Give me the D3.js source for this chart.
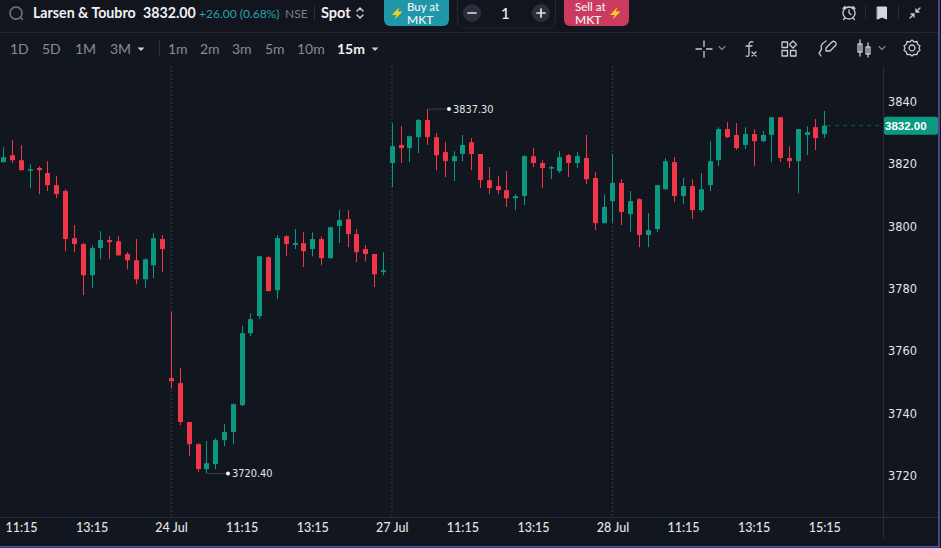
<!DOCTYPE html>
<html>
<head>
<meta charset="utf-8">
<title>Larsen & Toubro</title>
<script src="https://cdn.jsdelivr.net/npm/d3@7"></script>
<style>
    html, body { margin: 0; padding: 0; background: #12161e; overflow: hidden; }
    svg { display: block; font-family: Lato, sans-serif; }
    .axis-y text, .tag { font-family: "DejaVu Sans", sans-serif; }
</style>
</head>
<body>
<div id="chart"></div>
<script>
// 15m candles, four sessions (23 Jul from 10:45, then 24, 27 and 28 Jul)
const opens = [
    3820.3, 3822.5, 3820.9, 3817.7, 3818.4, 3816.8, 3812.9, 3811.0, 3795.9, 3794.0,
    3784.0, 3792.7, 3795.3, 3794.9, 3790.8, 3788.8, 3782.7, 3787.2, 3795.6,
    3751.0, 3749.4, 3736.9, 3729.8, 3721.8, 3723.4, 3731.1, 3733.7, 3742.3, 3765.4,
    3770.9, 3789.8, 3779.2, 3796.5, 3793.7, 3794.3, 3792.4, 3795.6, 3789.5, 3799.8,
    3802.0, 3797.2, 3792.4, 3790.8, 3785.0,
    3820.0, 3825.8, 3824.8, 3828.3, 3833.8, 3828.3, 3823.5, 3820.6, 3822.9, 3826.7,
    3822.9, 3814.5, 3812.6, 3811.3, 3808.7, 3809.4, 3822.2, 3820.0, 3818.4, 3817.4,
    3822.5, 3820.0, 3821.6, 3815.2, 3800.7,
    3807.8, 3813.6, 3803.6, 3808.4, 3796.9, 3798.8, 3811.6, 3820.3, 3809.4, 3812.6,
    3804.9, 3812.9, 3820.9, 3830.9, 3829.0, 3825.8, 3829.3, 3827.0, 3829.0, 3834.7,
    3821.6, 3820.6, 3829.0, 3831.5, 3829.3
];
const highs = [
    3825.1, 3827.4, 3825.7, 3819.6, 3819.0, 3820.6, 3815.8, 3811.6, 3800.1, 3794.3,
    3793.6, 3798.1, 3796.5, 3796.5, 3791.4, 3795.6, 3789.5, 3797.5, 3796.9,
    3772.2, 3754.2, 3736.9, 3730.1, 3730.8, 3731.7, 3736.2, 3742.9, 3767.7, 3771.8,
    3790.1, 3790.1, 3796.9, 3796.9, 3798.8, 3797.8, 3797.8, 3796.5, 3799.4, 3804.9,
    3804.9, 3798.8, 3793.7, 3790.8, 3791.4,
    3832.8, 3831.9, 3828.6, 3834.1, 3837.3, 3829.6, 3826.7, 3823.8, 3829.0, 3828.0,
    3822.9, 3818.7, 3815.8, 3817.4, 3810.0, 3822.5, 3824.8, 3820.9, 3819.0, 3823.8,
    3822.9, 3823.5, 3829.0, 3817.1, 3810.0,
    3822.9, 3814.8, 3811.0, 3808.7, 3803.9, 3812.9, 3821.6, 3821.9, 3815.2, 3814.8,
    3816.8, 3827.0, 3831.5, 3833.1, 3832.8, 3831.5, 3830.9, 3830.2, 3834.7, 3834.7,
    3825.4, 3830.9, 3831.8, 3834.1, 3836.7
];
const lows = [
    3820.1, 3820.0, 3817.7, 3811.9, 3810.0, 3811.0, 3808.7, 3791.7, 3791.4, 3777.6,
    3779.8, 3789.1, 3789.1, 3790.1, 3785.9, 3781.1, 3779.8, 3783.1, 3785.0,
    3747.7, 3735.9, 3725.9, 3720.8, 3720.4, 3721.8, 3729.2, 3729.8, 3742.0, 3764.4,
    3769.9, 3778.9, 3776.3, 3790.1, 3792.4, 3786.6, 3790.1, 3787.2, 3789.2, 3794.3,
    3793.0, 3788.2, 3788.5, 3780.2, 3784.0,
    3812.3, 3820.0, 3820.3, 3823.2, 3825.8, 3817.7, 3815.5, 3814.2, 3820.6, 3817.7,
    3812.0, 3810.0, 3810.0, 3805.9, 3804.9, 3806.5, 3818.7, 3812.0, 3814.8, 3816.8,
    3815.5, 3818.4, 3813.2, 3798.5, 3800.7,
    3801.0, 3800.1, 3797.8, 3793.0, 3793.0, 3797.8, 3811.3, 3807.5, 3806.8, 3802.0,
    3804.3, 3811.0, 3819.0, 3828.0, 3824.2, 3824.5, 3819.0, 3826.7, 3820.3, 3820.3,
    3818.4, 3810.3, 3822.5, 3824.2, 3828.0
];
const closes = [
    3821.9, 3820.9, 3817.7, 3818.0, 3817.7, 3812.9, 3810.0, 3795.6, 3794.0, 3784.0,
    3792.7, 3795.3, 3794.6, 3790.4, 3788.8, 3782.7, 3789.1, 3795.9, 3792.4,
    3750.0, 3736.9, 3729.8, 3721.8, 3723.7, 3731.1, 3733.7, 3742.6, 3765.4, 3769.9,
    3790.1, 3778.9, 3795.9, 3794.0, 3794.3, 3791.7, 3795.6, 3789.5, 3799.4, 3801.7,
    3797.2, 3791.4, 3790.8, 3784.3, 3785.6,
    3825.4, 3824.8, 3828.6, 3833.8, 3828.3, 3822.5, 3820.6, 3822.2, 3825.8, 3822.9,
    3814.5, 3812.0, 3811.3, 3808.7, 3809.4, 3822.2, 3820.0, 3818.4, 3818.7, 3821.9,
    3820.0, 3822.2, 3814.8, 3800.7, 3805.9,
    3813.6, 3804.3, 3807.8, 3796.9, 3798.5, 3812.9, 3820.6, 3809.4, 3812.6, 3804.9,
    3811.6, 3820.6, 3830.9, 3828.3, 3824.8, 3829.3, 3827.0, 3829.0, 3834.7, 3821.6,
    3820.6, 3830.9, 3829.9, 3828.0, 3832.0
];

const priceTicks = [3840, 3820, 3800, 3780, 3760, 3740, 3720];
const timeTickSlots = [2, 10, 19, 27, 35, 44, 52, 60, 69, 77, 85, 93];
const timeTickLabels = ["11:15", "13:15", "24 Jul", "11:15", "13:15", "27 Jul", "11:15", "13:15", "28 Jul", "11:15", "13:15", "15:15"];
const sessionStarts = [19, 44, 69];
const lastPrice = 3832.00;

const width = 941, height = 548;
const axisX = 883, axisY = 517;
const bg = "#12161e", upColor = "#0b9981", downColor = "#f23549";
const lineColor = "#292d35", textColor = "#e4e5e8", muted = "#878c96";

const slots = d3.range(opens.length);
const x = d3.scalePoint().domain(slots).range([3.3, 824.3]);
const y = d3.scaleLinear().domain([3720, 3840]).range([474.7, 100.7]);
const bodyWidth = 5;

const svg = d3.select("#chart").append("svg").attr("width", width).attr("height", height);
svg.append("rect").attr("width", width).attr("height", height).attr("fill", bg);

// session separators
svg.append("g").selectAll("line").data(sessionStarts).join("line")
    .attr("x1", d => x(d) + 0.2).attr("x2", d => x(d) + 0.2)
    .attr("y1", 66).attr("y2", axisY)
    .attr("stroke", "#3a3e47").attr("stroke-dasharray", "2,2");

// panel lines
svg.append("line").attr("x1", 0).attr("x2", 938).attr("y1", axisY + 0.5).attr("y2", axisY + 0.5).attr("stroke", lineColor);
svg.append("line").attr("x1", axisX + 0.5).attr("x2", axisX + 0.5).attr("y1", 66).attr("y2", 538).attr("stroke", lineColor);

// candles
const candles = svg.append("g").selectAll("g").data(slots).join("g")
    .attr("fill", i => closes[i] >= opens[i] ? upColor : downColor)
    .attr("stroke", i => closes[i] >= opens[i] ? upColor : downColor);
candles.append("line")
    .attr("x1", i => Math.round(x(i)) + 0.5).attr("x2", i => Math.round(x(i)) + 0.5)
    .attr("y1", i => y(highs[i])).attr("y2", i => y(lows[i]))
    .attr("stroke-width", 1);
candles.append("rect")
    .attr("x", i => Math.round(x(i)) + 0.5 - bodyWidth / 2)
    .attr("width", bodyWidth)
    .attr("y", i => y(Math.max(opens[i], closes[i])))
    .attr("height", i => Math.max(Math.abs(y(opens[i]) - y(closes[i])), 1.5))
    .attr("stroke", "none");

// high / low markers
function extremeTag(slot, price) {
    const px = Math.round(x(slot)) + 0.5, py = y(price);
    const g = svg.append("g");
    g.append("line").attr("x1", px).attr("x2", px + 21).attr("y1", py).attr("y2", py).attr("stroke", "#3c4048");
    g.append("circle").attr("cx", px + 21.5).attr("cy", py).attr("r", 2).attr("fill", "#fff");
    g.append("text").attr("class", "tag").attr("x", px + 25.5).attr("y", py + 4)
        .attr("font-size", 9.8).attr("fill", textColor).text(price.toFixed(2));
}
const highSlot = highs.indexOf(d3.max(highs)), lowSlot = lows.indexOf(d3.min(lows));
extremeTag(highSlot, highs[highSlot]);
extremeTag(lowSlot, lows[lowSlot]);

// price axis
const yAxis = svg.append("g").attr("class", "axis-y")
    .attr("transform", `translate(${axisX},0)`)
    .call(d3.axisRight(y).tickValues(priceTicks).tickSize(0).tickPadding(5).tickFormat(d3.format("d")));
yAxis.select(".domain").remove();
yAxis.selectAll("text").attr("font-size", 11.4).attr("fill", textColor).attr("dy", "0.42em");

// time axis
const xAxis = svg.append("g")
    .attr("transform", `translate(0,${axisY})`)
    .call(d3.axisBottom(x).tickValues(timeTickSlots).tickSize(0).tickPadding(6)
        .tickFormat(d => timeTickLabels[timeTickSlots.indexOf(d)]));
xAxis.select(".domain").remove();
xAxis.selectAll("text").attr("font-family", "Lato, sans-serif").attr("font-size", 12.5).attr("font-weight", 500).attr("fill", textColor);

// last price
const lastY = y(lastPrice);
svg.append("line").attr("x1", 827).attr("x2", axisX).attr("y1", lastY).attr("y2", lastY)
    .attr("stroke", "#0b5f54").attr("stroke-dasharray", "4,4");
svg.append("rect").attr("x", 884).attr("y", lastY - 9).attr("width", 54).attr("height", 18).attr("rx", 2).attr("fill", upColor);
svg.append("text").attr("x", 885).attr("y", lastY + 4.5).attr("font-family", "Liberation Sans, sans-serif")
    .attr("font-size", 11.5).attr("font-weight", 700).attr("fill", "#fff").text(lastPrice.toFixed(2));

// toolbars
const bar = svg.append("g");
bar.append("rect").attr("width", 941).attr("height", 32).attr("fill", "#12151d");
bar.append("rect").attr("y", 33).attr("width", 941).attr("height", 32).attr("fill", "#12161e");
bar.append("line").attr("x1", 0).attr("x2", 938).attr("y1", 32.5).attr("y2", 32.5).attr("stroke", "#23272f");

function label(t, px, py, size, fill, weight = 400) {
    return bar.append("text").attr("x", px).attr("y", py).attr("font-size", size)
        .attr("fill", fill).attr("font-weight", weight).text(t);
}
function sep(px, y1, y2) {
    bar.append("line").attr("x1", px + 0.5).attr("x2", px + 0.5).attr("y1", y1).attr("y2", y2).attr("stroke", "#2a2e36");
}
function icon(d, px, py, stroke = "#c9cbd0", fill = "none", sw = 1.3) {
    return bar.append("path").attr("d", d).attr("transform", `translate(${px},${py})`)
        .attr("fill", fill).attr("stroke", stroke).attr("stroke-width", sw)
        .attr("stroke-linecap", "round").attr("stroke-linejoin", "round");
}

icon("M0,-6A6,6 0 1 0 0.01,-6M4.3,4.3L6.5,6.5", 16, 13, "#6e727b", "none", 1.5);
label("Larsen & Toubro", 33, 18, 14.2, "#f0f1f3", 700);
label("3832.00", 143, 18, 14.2, "#f0f1f3", 700);
label("+26.00 (0.68%)", 199, 18, 12, "#27a0b0");
label("NSE", 285, 18, 12, "#787d87");
sep(314, 6, 20);
label("Spot", 321, 18, 14.5, "#f0f1f3", 700);
icon("M-3,-2L0,-5L3,-2M-3,2L0,5L3,2", 360, 13, "#c9cbd0", "none", 1.5);

const bolt = "M2.5,-6L-5,2L-0.5,2L-2.5,6.5L5.5,-1.5L0.8,-1.5Z";

// buy button
bar.append("rect").attr("x", 384).attr("y", -6).attr("width", 65).attr("height", 32).attr("rx", 6).attr("fill", "#2097a8");
icon(bolt, 397, 13, "none", "#f6d21f");
label("Buy at", 407, 11, 11.5, "#f2f4f5", 500);
label("MKT", 407, 24, 12, "#f2f4f5", 500);

// quantity stepper
bar.append("rect").attr("x", 457.5).attr("y", -8).attr("width", 98).attr("height", 36).attr("rx", 8)
    .attr("fill", "none").attr("stroke", "#23272f");
bar.append("circle").attr("cx", 472).attr("cy", 13).attr("r", 9).attr("fill", "#2a303b");
bar.append("circle").attr("cx", 541).attr("cy", 13).attr("r", 9).attr("fill", "#2a303b");
icon("M-4,0H4", 472, 13, "#e4e5e8", "none", 1.7);
icon("M-4,0H4M0,-4V4", 541, 13, "#e4e5e8", "none", 1.7);
label("1", 501, 19, 15, "#f0f1f3", 500);

// sell button
bar.append("rect").attr("x", 564).attr("y", -6).attr("width", 65).attr("height", 32).attr("rx", 6).attr("fill", "#cc3b5f");
label("Sell at", 575, 11, 11.5, "#f2f4f5", 500);
label("MKT", 575, 24, 12, "#f2f4f5", 500);
icon(bolt, 615, 13, "none", "#f6d21f");

// top right icons
icon("M0,-6A6,6 0 1 0 0.01,-6M0,-3V0L2,1.5M-6,-4.5L-4,-6.5M6,-4.5L4,-6.5M-4,5L-5.5,6.5M4,5L5.5,6.5", 849, 13);
sep(865, 6, 19);
icon("M-4.5,-6H4.5V6L0,4L-4.5,6Z", 882, 13, "#d5d7da", "#d5d7da", 1);
sep(898, 6, 19);
icon("M-5,5L-1.2,1.2M-4,1H-1V4M5,-5L1.2,-1.2M4,-1H1V-4", 915, 13);

// range and interval selectors
const ranges = ["1D", "5D", "1M", "3M"], rangeX = [10, 42, 75, 110];
const intervals = ["1m", "2m", "3m", "5m", "10m"], intervalX = [168, 200, 232, 265, 297];
ranges.forEach((t, i) => label(t, rangeX[i], 54, 14, muted));
intervals.forEach((t, i) => label(t, intervalX[i], 54, 14, muted));
label("15m", 337, 54, 14, "#f0f1f3", 700);
const caret = "M-3.5,-1.5H3.5L0,2Z";
icon(caret, 141, 49, "none", "#c9cbd0");
icon(caret, 375, 49, "none", "#c9cbd0");
sep(159, 40, 57);

// drawing tools
const chev = "M-3,-1.5L0,1.5L3,-1.5";
icon("M-8,0H-2.5M2.5,0H8M0,-8V-2.5M0,2.5V8", 704, 49);
icon(chev, 722, 48, "#787d87");
icon("M3,-7C0,-8 -1,-6 -1,-4V5C-1,7 -2,8 -4,7M-4,-3H2M2,3L6,7M6,3L2,7", 750, 49);
icon("M-7,-7H-1.5V-1.5H-7ZM-7,1.5H-1.5V7H-7ZM1.5,1.5H7V7H1.5ZM4,-8L7.5,-4.5L4,-1L0.5,-4.5Z", 789, 49);
icon("M-7,8L-9,5C-6,2 -6,0 -7,-2C-6,-4 -4,-6 -2,-7M2,3L8,-3C9,-5 6,-8 4,-6L-2,0L-2,3Z", 828, 48);
icon("M-4,-8V8M-6,-4H-2V4H-6ZM4,-5V9M2,-1H6V6H2Z", 864, 48);
icon(chev, 882, 48, "#787d87");
icon("M0,-8L2,-6.2L5,-6.5L5.7,-3.7L8,-2L7,0L8,2.2L5.7,3.9L5,6.7L2,6.3L0,8L-2,6.3L-5,6.7L-5.7,3.9L-8,2.2L-7,0L-8,-2L-5.7,-3.7L-5,-6.5L-2,-6.2ZM0,-3A3,3 0 1 0 0.01,-3", 912, 48);

// window frame
svg.append("rect").attr("x", 938).attr("width", 2).attr("height", 547).attr("fill", "#4a478f");
svg.append("rect").attr("y", 546).attr("width", 940).attr("height", 1.5).attr("fill", "#5a52b0");
</script>
</body>
</html>
